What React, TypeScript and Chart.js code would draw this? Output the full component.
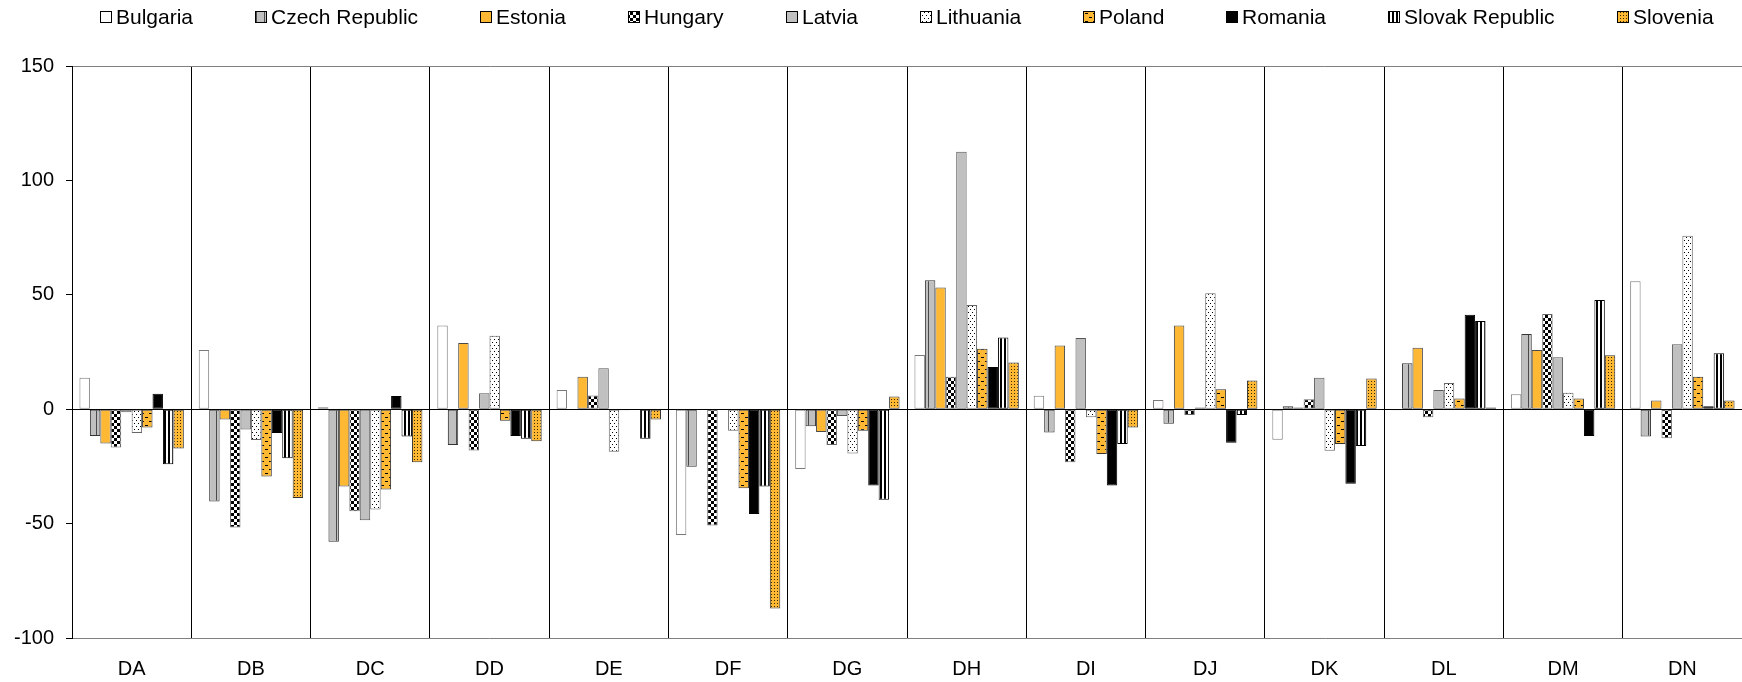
import { useEffect, useRef } from 'react';
import { Chart, registerables } from 'chart.js';

Chart.register(...registerables);

const FONT = '"Liberation Sans", Arial, Helvetica, sans-serif';

const categories = ['DA', 'DB', 'DC', 'DD', 'DE', 'DF', 'DG', 'DH', 'DI', 'DJ', 'DK', 'DL', 'DM', 'DN'];
const yTicks = [-100, -50, 0, 50, 100, 150];

const bulgaria = [13.7, 25.9, 0.8, 36.6, 8.4, -55.0, -26.1, 23.7, 5.9, 4.0, -13.4, -0.5, 6.5, 55.9];
const czechRepublic = [-11.7, -40.3, -57.9, -15.7, 0, -25.1, -7.5, 56.4, -10.2, -6.4, 1.3, 20.1, 32.9, -11.9];
const estonia = [-15.0, -4.5, -33.8, 28.9, 14.2, 0, -10.0, 53.2, 27.8, 36.6, 0.7, 26.9, 25.9, 3.8];
const hungary = [-16.7, -51.7, -44.6, -18.1, 6.0, -50.8, -15.7, 14.2, -23.2, -2.5, 4.3, -3.5, 41.6, -12.7];
const latvia = [-1.3, -8.9, -48.5, 7.0, 17.9, 0, -3.0, 112.5, 31.1, 0.7, 13.7, 8.4, 22.7, 28.4];
const lithuania = [-10.4, -13.5, -43.8, 32.1, -18.6, -9.4, -19.4, 45.5, -3.5, 50.7, -18.2, 11.5, 7.2, 75.8];
const poland = [-8.0, -29.4, -35.1, -5.0, -0.5, -34.6, -9.4, 26.4, -19.6, 8.7, -15.2, 4.7, 4.7, 14.2];
const romania = [6.7, -10.4, 5.8, -11.7, 0, -45.8, -33.3, 18.4, -33.4, -14.7, -32.6, 41.3, -11.7, 1.3];
const slovakRepublic = [-24.1, -21.4, -11.9, -12.9, -12.9, -33.8, -39.6, 31.3, -15.2, -2.5, -16.1, 38.5, 47.7, 24.4];
const slovenia = [-17.2, -38.8, -23.2, -14.0, -4.5, -87.1, 5.5, 20.4, -8.0, 12.5, 13.4, 0.7, 23.6, 3.8];

const ORANGE = '#FFB833';
const GRAY = '#C0C0C0';

function makePattern(w: number, h: number, draw: (g: CanvasRenderingContext2D) => void) {
  const c = document.createElement('canvas');
  c.width = w;
  c.height = h;
  const g = c.getContext('2d')!;
  draw(g);
  return g.createPattern(c, 'repeat')!;
}

function buildFills() {
  const white = '#FFFFFF';
  const czech = makePattern(8, 8, (g) => {
    g.fillStyle = GRAY; g.fillRect(0, 0, 8, 8);
    g.fillStyle = '#4a4a4a'; g.fillRect(0, 0, 1, 8);
  });
  const checker = makePattern(6, 6, (g) => {
    g.fillStyle = '#FFFFFF'; g.fillRect(0, 0, 6, 6);
    g.fillStyle = '#000000'; g.fillRect(0, 0, 3, 3); g.fillRect(3, 3, 3, 3);
  });
  const dotsWhite = makePattern(4, 6, (g) => {
    g.fillStyle = '#FFFFFF'; g.fillRect(0, 0, 4, 6);
    g.fillStyle = '#000000'; g.fillRect(0, 0, 1, 1); g.fillRect(2, 3, 1, 1);
  });
  const dashes = makePattern(8, 8, (g) => {
    g.fillStyle = ORANGE; g.fillRect(0, 0, 8, 8);
    g.fillStyle = '#000000'; g.fillRect(1, 1, 3, 1); g.fillRect(5, 5, 3, 1);
  });
  const stripes = makePattern(4, 4, (g) => {
    g.fillStyle = '#FFFFFF'; g.fillRect(0, 0, 4, 4);
    g.fillStyle = '#000000'; g.fillRect(0, 0, 2, 4);
  });
  const dotsOrange = makePattern(3, 3, (g) => {
    g.fillStyle = ORANGE; g.fillRect(0, 0, 3, 3);
    g.fillStyle = '#3a2a00'; g.fillRect(0, 0, 1, 1);
  });
  return { white, czech, checker, dotsWhite, dashes, stripes, dotsOrange };
}

const legendPlugin = {
  id: 'customLegend',
  afterDraw(chart: any) {
    const ctx: CanvasRenderingContext2D = chart.ctx;
    const box = 12;
    const textGap = 4;
    const gap = 62;
    ctx.save();
    ctx.font = `21px ${FONT}`;
    const items = chart.data.datasets.map((ds: any) => ({ text: ds.label, fill: ds.backgroundColor }));
    const widths = items.map((it: any) => box + textGap + ctx.measureText(it.text).width);
    const total = widths.reduce((a: number, b: number) => a + b, 0) + gap * (items.length - 1);
    let x = Math.round((chart.chartArea.left + chart.chartArea.right) / 2 - total / 2);
    const cy = 17;
    items.forEach((it: any, i: number) => {
      const bx = Math.round(x);
      ctx.fillStyle = it.fill;
      ctx.fillRect(bx, cy - 6, box, box);
      ctx.strokeStyle = '#000';
      ctx.lineWidth = 1;
      ctx.strokeRect(bx + 0.5, cy - 6 + 0.5, box - 1, box - 1);
      ctx.fillStyle = '#000';
      ctx.textBaseline = 'middle';
      ctx.textAlign = 'left';
      ctx.fillText(it.text, bx + box + textGap, cy + 1);
      x += widths[i] + gap;
    });
    ctx.restore();
  },
};

export default function App() {
  const ref = useRef<HTMLCanvasElement | null>(null);

  useEffect(() => {
    if (!ref.current) return;
    const f = buildFills();
    const border = '#333333';
    const mk = (label: string, data: number[], bg: any, bc: string) => ({
      label, data, backgroundColor: bg, borderColor: bc, borderWidth: 1, borderSkipped: false,
    });
    const chart = new Chart(ref.current, {
      type: 'bar',
      data: {
        labels: categories,
        datasets: [
          mk('Bulgaria', bulgaria, f.white, '#7a7a7a'),
          mk('Czech Republic', czechRepublic, f.czech, border),
          mk('Estonia', estonia, ORANGE, '#4a4a4a'),
          mk('Hungary', hungary, f.checker, '#666666'),
          mk('Latvia', latvia, GRAY, '#555555'),
          mk('Lithuania', lithuania, f.dotsWhite, '#666666'),
          mk('Poland', poland, f.dashes, border),
          mk('Romania', romania, '#000000', '#000000'),
          mk('Slovak Republic', slovakRepublic, f.stripes, '#000000'),
          mk('Slovenia', slovenia, f.dotsOrange, border),
        ] as any,
      },
      options: {
        animation: false,
        responsive: false,
        devicePixelRatio: 1,
        layout: { padding: { top: 66, left: 0, right: 0, bottom: 0 } },
        datasets: { bar: { categoryPercentage: 0.875, barPercentage: 1.0 } } as any,
        plugins: { legend: { display: false }, tooltip: { enabled: false } },
        scales: {
          x: {
            afterFit: (s: any) => { s.height = 44; },
            grid: { offset: true, color: '#000000', lineWidth: 1, drawTicks: false, drawOnChartArea: true },
            border: { display: true, color: '#808080' },
            ticks: { color: '#000', font: { size: 20, family: FONT }, padding: 19, maxRotation: 0, autoSkip: false },
          },
          y: {
            min: -100,
            max: 150,
            afterFit: (s: any) => { s.width = 72; },
            afterBuildTicks: (s: any) => { s.ticks = yTicks.map((v) => ({ value: v })); },
            ticks: { color: '#000', font: { size: 20, family: FONT }, padding: 12 },
            grid: {
              color: (c: any) => (c.tick && c.tick.value === 0 ? '#000000' : c.tick && c.tick.value === 150 ? '#808080' : 'rgba(0,0,0,0)'),
              tickColor: '#000000',
              tickLength: 6,
              drawTicks: true,
              lineWidth: 1,
            },
            border: { display: true, color: '#000000' },
          },
        },
      } as any,
      plugins: [legendPlugin],
    });
    return () => chart.destroy();
  }, []);

  return (
    <div style={{ position: 'absolute', left: 0, top: 0, width: 1742, height: 682, background: '#fff' }}>
      <canvas ref={ref} width={1742} height={682} style={{ display: 'block', width: 1742, height: 682 }} />
    </div>
  );
}
